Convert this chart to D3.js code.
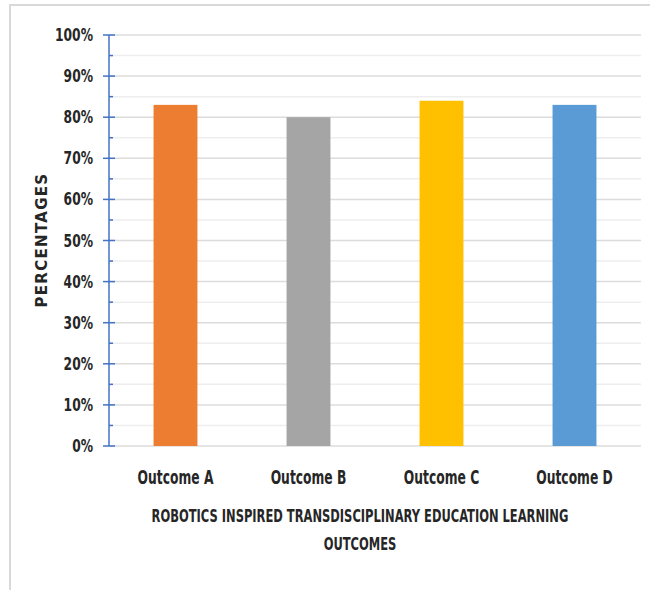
<!DOCTYPE html>
<html>
<head>
<meta charset="utf-8">
<script src="https://cdn.jsdelivr.net/npm/d3@7"></script>
<style>
  html, body { margin: 0; padding: 0; background: #fff; }
  svg { display: block; }
  .lbl { font-family: "DejaVu Sans Condensed", "DejaVu Sans", sans-serif; font-weight: bold; fill: #262626; }
</style>
</head>
<body>
<svg id="chart" width="650" height="590"></svg>
<script>
// Learning outcome categories and their percentages
const categories = ["Outcome A", "Outcome B", "Outcome C", "Outcome D"];
const values = [0.83, 0.80, 0.84, 0.83];
const barColors = ["#ED7D31", "#A5A5A5", "#FFC000", "#5B9BD5"];
const yTicks = [0, 0.1, 0.2, 0.3, 0.4, 0.5, 0.6, 0.7, 0.8, 0.9, 1.0];
const yMinorTicks = [0.05, 0.15, 0.25, 0.35, 0.45, 0.55, 0.65, 0.75, 0.85, 0.95];
const xTitleLines = ["ROBOTICS INSPIRED TRANSDISCIPLINARY EDUCATION LEARNING", "OUTCOMES"];
const yTitle = "PERCENTAGES";

const svg = d3.select("#chart");
const fmtPct = d3.format(".0%");

// narrow text: a condensed face squeezed horizontally around its anchor point
function narrowText(parent, tx, ty, str, size, squeeze, anchor) {
  return parent.append("text")
    .attr("class", "lbl")
    .attr("transform", `translate(${tx},${ty}) scale(${squeeze},1)`)
    .attr("text-anchor", anchor)
    .style("font-size", size + "px")
    .text(str);
}

// outer chart frame (top and left edges visible)
svg.append("rect")
  .attr("x", 10).attr("y", 5)
  .attr("width", 660).attr("height", 600)
  .attr("fill", "none")
  .attr("stroke", "#d9d9d9")
  .attr("stroke-width", 2);

const plot = { left: 109, right: 641, top: 35, bottom: 446 };

const x = d3.scaleBand()
  .domain(categories)
  .range([plot.left, plot.right])
  .paddingInner(0.67)
  .paddingOuter(0.335);

const y = d3.scaleLinear()
  .domain([0, 1])
  .range([plot.bottom, plot.top]);

// gridlines: light at half steps, stronger at each 10%
svg.append("g").selectAll("line")
  .data(yMinorTicks)
  .join("line")
  .attr("x1", plot.left).attr("x2", plot.right)
  .attr("y1", d => y(d)).attr("y2", d => y(d))
  .attr("stroke", "#eeeeee").attr("stroke-width", 1.5);

svg.append("g").selectAll("line")
  .data(yTicks)
  .join("line")
  .attr("x1", plot.left).attr("x2", plot.right)
  .attr("y1", d => y(d)).attr("y2", d => y(d))
  .attr("stroke", "#dcdcdc").attr("stroke-width", 1.5);

// bars
svg.append("g").selectAll("rect")
  .data(values)
  .join("rect")
  .attr("x", (d, i) => x(categories[i]))
  .attr("width", x.bandwidth())
  .attr("y", d => y(d))
  .attr("height", d => y(0) - y(d))
  .attr("fill", (d, i) => barColors[i]);

// y axis: blue spine with crossing major ticks and short minor ticks
const axisColor = "#4472C4";
svg.append("line")
  .attr("x1", plot.left).attr("x2", plot.left)
  .attr("y1", y(1)).attr("y2", y(0))
  .attr("stroke", axisColor).attr("stroke-width", 1.5);

svg.append("g").selectAll("line")
  .data(yTicks)
  .join("line")
  .attr("x1", plot.left - 6).attr("x2", plot.left + 6)
  .attr("y1", d => y(d)).attr("y2", d => y(d))
  .attr("stroke", axisColor).attr("stroke-width", 1.5);

svg.append("g").selectAll("line")
  .data(yMinorTicks)
  .join("line")
  .attr("x1", plot.left).attr("x2", plot.left + 4)
  .attr("y1", d => y(d)).attr("y2", d => y(d))
  .attr("stroke", axisColor).attr("stroke-width", 1.5);

// y tick labels
const yLabels = svg.append("g");
yTicks.forEach(t => narrowText(yLabels, plot.left - 16, y(t) + 6, fmtPct(t), 18, 0.76, "end"));

// category labels
const xLabels = svg.append("g");
categories.forEach(c => narrowText(xLabels, x(c) + x.bandwidth() / 2, plot.bottom + 38, c, 19, 0.72, "middle"));

// x axis title (two lines)
const xTitle = svg.append("g");
xTitleLines.forEach((line, i) => narrowText(xTitle, 360, 522 + i * 28, line, 18, 0.71, "middle"));

// y axis title
svg.append("text")
  .attr("class", "lbl")
  .attr("transform", "translate(47,240) rotate(-90)")
  .attr("text-anchor", "middle")
  .style("font-family", "'DejaVu Sans', sans-serif")
  .style("font-size", "15px")
  .style("font-weight", "bold")
  .style("letter-spacing", "1.3px")
  .text(yTitle);
</script>
</body>
</html>
